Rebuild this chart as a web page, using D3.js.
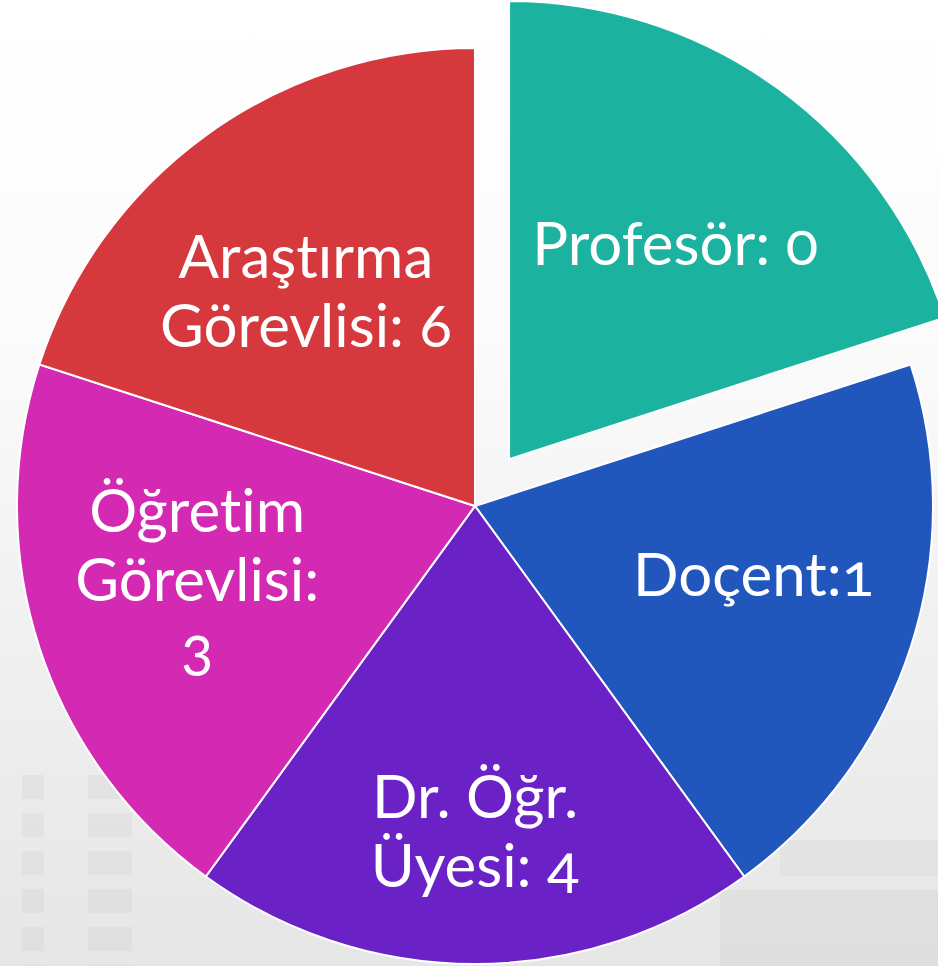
<!DOCTYPE html>
<html>
<head>
<meta charset="utf-8">
<script src="https://cdn.jsdelivr.net/npm/d3@7"></script>
<style>
  html, body { margin: 0; padding: 0; background: #ffffff; }
  svg { display: block; }
  .lbl { font-family: Lato, "Open Sans", sans-serif; fill: #ffffff; font-variant-numeric: oldstyle-nums; font-variant-ligatures: none; font-feature-settings: "onum" 1, "liga" 0, "clig" 0, "dlig" 0; }
</style>
</head>
<body>
<svg id="chart" width="938" height="966"></svg>
<script>
// ---- data ----
const categories = ["Profesör", "Doçent", "Dr. Öğr. Üyesi", "Öğretim Görevlisi", "Araştırma Görevlisi"];
const counts = [0, 1, 4, 3, 6];
// the graphic draws five equal segments (a cycle diagram), not proportional slices
const segmentWeights = [1, 1, 1, 1, 1];
const labelLines = [
  ["Profesör: 0"],
  ["Doçent:1"],
  ["Dr. Öğr.", "Üyesi: 4"],
  ["Öğretim", "Görevlisi:", "3"],
  ["Araştırma", "Görevlisi: 6"]
];
const colors = ["#1bb39f", "#2157bc", "#6a22c6", "#d429b2", "#d5393e"];
const explodedIndex = 0;

// ---- layout ----
const W = 938, H = 966;
const cx = 475, cy = 506, R = 458;
const explodeDist = 58;
const fontSize = 60, lineH = 69, capH = 42;
// label placement inside each segment: radius factor and small angular nudge (deg)
const labelRadiusF = [0.593, 0.627, 0.711, 0.628, 0.597];
const labelNudge = [1.7, -4, 0, 3, -2.2];

const svg = d3.select("#chart");
const defs = svg.append("defs");
const bg = defs.append("linearGradient").attr("id", "bg").attr("x1", 0).attr("y1", 0).attr("x2", 0).attr("y2", 1);
bg.append("stop").attr("offset", "0").attr("stop-color", "#ffffff");
bg.append("stop").attr("offset", "0.35").attr("stop-color", "#fbfbfb");
bg.append("stop").attr("offset", "0.7").attr("stop-color", "#efefef");
bg.append("stop").attr("offset", "1").attr("stop-color", "#e6e6e6");
svg.append("rect").attr("width", W).attr("height", H).attr("fill", "url(#bg)");

// faint background "photo" texture (decorative)
const deco = svg.append("g").attr("opacity", 0.22);
d3.range(0, 6).forEach(i => {
  deco.append("rect").attr("x", 22).attr("y", 775 + i * 38).attr("width", 22).attr("height", 24).attr("fill", "#c8c8c8");
  deco.append("rect").attr("x", 88).attr("y", 775 + i * 38).attr("width", 44).attr("height", 24).attr("fill", "#c8c8c8");
});
deco.append("rect").attr("x", 720).attr("y", 890).attr("width", 218).attr("height", 76).attr("fill", "#c4c4ca");
deco.append("rect").attr("x", 780).attr("y", 840).attr("width", 158).attr("height", 36).attr("fill", "#d0d0d6");

const pie = d3.pie().sort(null).value(d => d.w);
const items = categories.map((c, i) => ({ cat: c, count: counts[i], w: segmentWeights[i], lines: labelLines[i], color: colors[i], i }));
const arcs = pie(items);
const arc = d3.arc().innerRadius(0).outerRadius(R);

const g = svg.append("g").attr("transform", `translate(${cx},${cy})`);

const seg = g.selectAll("g.seg").data(arcs).join("g")
  .attr("class", "seg")
  .attr("transform", d => {
    if (d.data.i !== explodedIndex) return null;
    const a = (d.startAngle + d.endAngle) / 2;
    return `translate(${Math.sin(a) * explodeDist},${-Math.cos(a) * explodeDist})`;
  });

seg.append("path")
  .attr("d", arc)
  .attr("fill", d => d.data.color)
  .attr("stroke", "#ffffff")
  .attr("stroke-width", 2)
  .attr("stroke-linejoin", "miter");

seg.each(function (d) {
  const i = d.data.i;
  const a = (d.startAngle + d.endAngle) / 2 + labelNudge[i] * Math.PI / 180;
  const r = R * labelRadiusF[i];
  const x = Math.sin(a) * r, y = -Math.cos(a) * r;
  const n = d.data.lines.length;
  const firstBase = y - (n - 1) * lineH / 2 + capH / 2;
  const t = d3.select(this).append("text")
    .attr("class", "lbl")
    .attr("text-anchor", "middle")
    .attr("font-size", fontSize);
  d.data.lines.forEach((ln, k) => {
    t.append("tspan").attr("x", x).attr("y", firstBase + k * lineH).text(ln);
  });
});
</script>
</body>
</html>
